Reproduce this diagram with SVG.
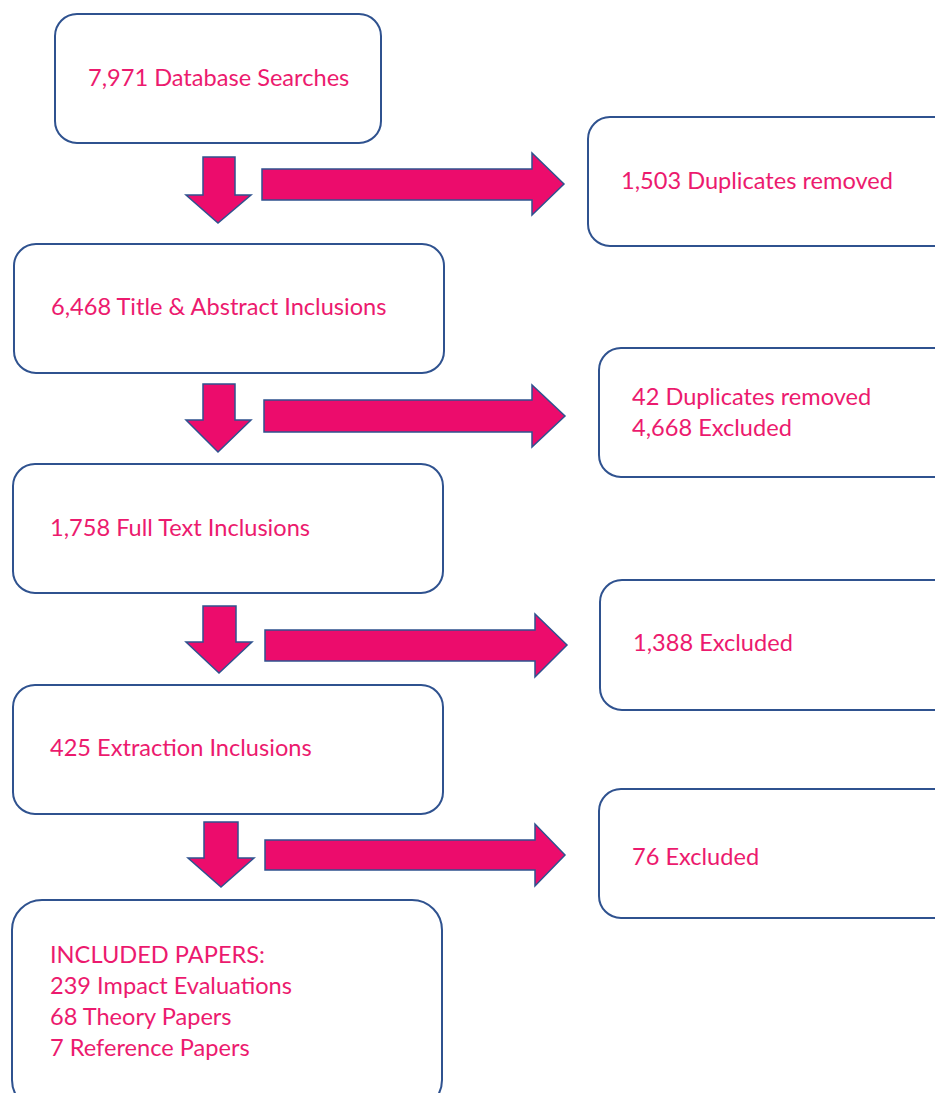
<svg xmlns="http://www.w3.org/2000/svg" width="935" height="1093" viewBox="0 0 935 1093">
<style>
.box{fill:#fff;stroke:#2F528F;stroke-width:2}
.arr{fill:#EC0C6C;stroke:#2F528F;stroke-width:1.5;stroke-linejoin:miter}
.t{font-family:Lato,"Open Sans",sans-serif;font-size:23.6px;fill:#EC1A6E}
</style>
<rect width="935" height="1093" fill="#fff"/>
<g id="n1"><rect class="box" x="55" y="14" width="326" height="129" rx="22"/><text class="t" x="88" y="86">7,971 Database Searches</text></g>
<g id="n2"><rect class="box" x="588" y="117" width="370" height="129" rx="22"/><text class="t" x="621" y="189">1,503 Duplicates removed</text></g>
<g id="n3"><rect class="box" x="14" y="244" width="430" height="129" rx="22"/><text class="t" x="51" y="315">6,468 Title &amp; Abstract Inclusions</text></g>
<g id="n4"><rect class="box" x="599" y="348" width="360" height="129" rx="22"/><text class="t" x="632" y="405">42 Duplicates removed</text><text class="t" x="632" y="436">4,668 Excluded</text></g>
<g id="n5"><rect class="box" x="13" y="464" width="430" height="129" rx="22"/><text class="t" x="50" y="536">1,758 Full Text Inclusions</text></g>
<g id="n6"><rect class="box" x="600" y="580" width="360" height="130" rx="22"/><text class="t" x="633" y="651">1,388 Excluded</text></g>
<g id="n7"><rect class="box" x="13" y="685" width="430" height="129" rx="22"/><text class="t" x="50" y="756">425 Extraction Inclusions</text></g>
<g id="n8"><rect class="box" x="599" y="789" width="360" height="129" rx="22"/><text class="t" x="632" y="865">76 Excluded</text></g>
<g id="n9"><rect class="box" x="12" y="900" width="430" height="210" rx="30"/><text class="t" x="50" y="963">INCLUDED PAPERS:</text><text class="t" x="50" y="994">239 Impact Evaluations</text><text class="t" x="50" y="1025">68 Theory Papers</text><text class="t" x="50" y="1056">7 Reference Papers</text></g>
<g id="connectors">
<polygon class="arr" points="203,157 235,157 235,195 251,195 218,223 186,195 203,195"/>
<polygon class="arr" points="203,384 235,384 235,420 251,420 218,452 186,420 203,420"/>
<polygon class="arr" points="203,606 236,606 236,642 252,642 219,673 186,642 203,642"/>
<polygon class="arr" points="204,822 238,822 238,858 254,858 221,887 188,858 204,858"/>
<polygon class="arr" points="262,169 532,169 532,153 564,184 532,215 532,200 262,200"/>
<polygon class="arr" points="264,400 532,400 532,385 565,416 532,447 532,432 264,432"/>
<polygon class="arr" points="265,630 535,630 535,614 567,645 535,677 535,661 265,661"/>
<polygon class="arr" points="265,840 535,840 535,824 565,855 535,886 535,870 265,870"/>
</g>
</svg>
